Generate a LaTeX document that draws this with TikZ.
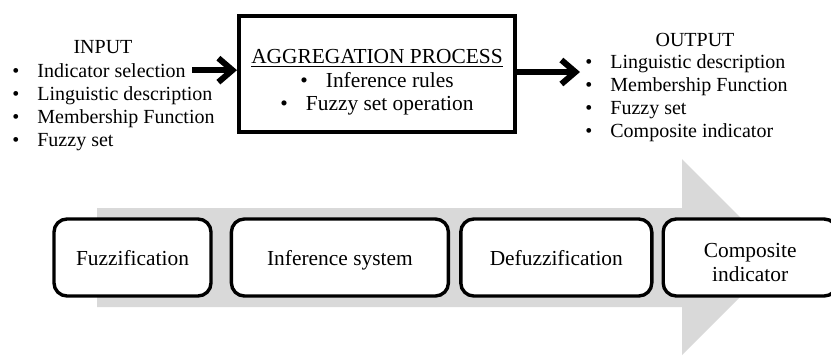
\documentclass[tikz,border=0pt]{standalone}
\usepackage{fontspec}
\setmainfont{Liberation Serif}
\usetikzlibrary{arrows.meta,positioning}
\definecolor{bandgray}{RGB}{217,217,217}
\tikzstyle{every node}+=[inner sep=0pt]
\tikzstyle{listitem}=[anchor=base west,font=\fontsize{10}{12}\selectfont]
\tikzstyle{boxtext}=[anchor=base,font=\fontsize{10.7}{12}\selectfont]
\tikzstyle{aggbox}=[draw,line width=2pt,minimum width=138pt,minimum height=58pt]
\tikzstyle{stepbox}=[draw,fill=white,line width=1.7pt,rounded corners=6.5pt,minimum height=38.5pt,align=center,font=\fontsize{10.7}{12}\selectfont,text height=7.5pt,text depth=0pt]
\tikzstyle{bigarrow}=[line width=3pt,-{Straight Barb[length=7pt,width=12pt]}]
\newcommand{\bul}{\llap{\textbullet\hspace{9pt}}}
\newcommand{\drawlist}[4]{% name, x, first baseline, entries
	\foreach \entry [count=\i] in {#4}{
		\node[listitem] (#1\i) at (#2,{#3+23*(\i-1)}) {\bul\entry};
	}
}

\begin{document}
\begin{tikzpicture}[x=0.5pt,y=-0.5pt]
\useasboundingbox (0,0) rectangle (831,355);
\clip (0,0) rectangle (831,355);

% input / aggregation / output
\node[boxtext,font=\fontsize{10}{12}\selectfont] (inhead) at (103,53) {INPUT};
\drawlist{in}{37}{77}{Indicator selection,Linguistic description,Membership Function,Fuzzy set}

\node[aggbox] (agg) at (377,74) {};
\node[boxtext] (aggtitle) at (377,63) {\underline{AGGREGATION PROCESS}};
\node[boxtext] (rules) at (377,87) {\textbullet\hspace{9pt}Inference rules};
\node[boxtext] (setop) at (377,110.5) {\textbullet\hspace{9pt}Fuzzy set operation};

\node[boxtext,font=\fontsize{10}{12}\selectfont] (outhead) at (695,46) {OUTPUT};
\drawlist{out}{610}{68.5}{Linguistic description,Membership Function,Fuzzy set,Composite indicator}

\draw[bigarrow] ([xshift=3pt]in1.east) -- (in1.east -| agg.west);
\coordinate (outtip) at (580,72);
\draw[bigarrow] (agg.east |- outtip) -- (outtip);

% process chain
\fill[bandgray] (97,208) -- (682,208) -- (682,159) -- (780,257) -- (682,355)
	-- (682,307) -- (97,307) -- cycle;

\node[stepbox,minimum width=78.5pt] (fuzz) at (132.5,257.5) {Fuzzification};
\node[stepbox,minimum width=108.5pt,right=8.5pt of fuzz] (infer) {Inference system};
\node[stepbox,minimum width=95.5pt,right=4.5pt of infer] (defuzz) {Defuzzification};
\node[stepbox,minimum width=87pt,right=4pt of defuzz,text height=27pt,text depth=3pt] (comp) {Composite\\indicator};

\end{tikzpicture}
\end{document}
